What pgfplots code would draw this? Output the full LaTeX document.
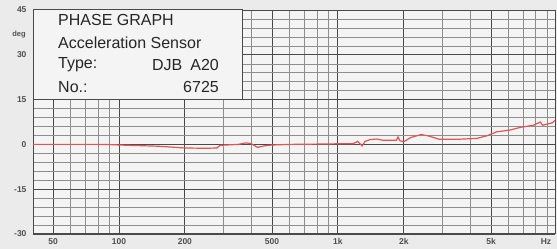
\documentclass[border=0pt]{standalone}
\usepackage{pgfplots}
\pgfplotsset{compat=1.18}
\usepackage{fontspec}
\setmainfont{Liberation Sans}
\definecolor{paper}{HTML}{EBEBEB}
\definecolor{plotbg}{HTML}{F4F4F4}
\definecolor{major}{HTML}{4A4A4A}
\definecolor{minorc}{HTML}{8E8E8E}
\definecolor{curve}{HTML}{E05555}
\definecolor{lbl}{HTML}{505050}
\begin{document}
\begin{tikzpicture}[x=1pt,y=1pt]
\fill[paper] (0,0) rectangle (557,249);
\begin{axis}[
  name=ax, at={(33pt,15pt)}, anchor=south west,
  scale only axis, width=522pt, height=224pt,
  xmode=log, xmin=40.5, xmax=9800, ymin=-30, ymax=45,
  axis background/.style={fill=plotbg},
  xtick={50,100,200,500,1000,2000,5000},
  xticklabels={50,100,200,500,1k,2k,5k},
  minor xtick={60,70,80,90,300,400,600,700,800,900,3000,4000,6000,7000,8000,9000},
  ytick={-30,-15,0,15,30,45},
  minor ytick={-27,-24,-21,-18,-12,-9,-6,-3,3,6,9,12,18,21,24,27,33,36,39,42},
  log ticks with fixed point,
  grid=both,
  major grid style={major, line width=0.9pt},
  minor grid style={minorc, line width=0.45pt},
  axis line style={major, line width=1pt},
  major tick length=0pt, minor tick length=0pt,
  tick label style={font=\fontsize{8.5}{10}\selectfont\bfseries, text=lbl},
  /pgf/number format/assume math mode=true,
  xticklabel style={yshift=-1pt},
  yticklabel style={xshift=-3pt},
  clip=false,
]
\addplot[curve, line width=1.2pt] coordinates {
(40.5,0) (60,0) (80,0) (95,-0.1) (100,-0.2) (150,-0.6) (200,-1.2) (250,-1.3) (280,-1.2) (290,-0.3) (350,0) (380,0.5) (400,0.3) (430,-1) (460,-0.5) (500,-0.2) (600,0) (800,0.1) (1000,0.2) (1170,0.2) (1230,1) (1290,-0.5) (1330,1) (1400,1.6) (1500,1.8) (1600,1.4) (1850,1.4) (1880,2.5) (1920,1.2) (2000,0.9) (2150,2.3) (2400,3.3) (2600,2.8) (2900,1.7) (3500,1.7) (4300,2.0) (4800,2.9) (5300,4.2) (6100,4.8) (6800,5.7) (7800,6.4) (8400,7.5) (8600,6.4) (9500,7.2) (9800,8)
};
\end{axis}
% info box
\filldraw[fill=plotbg, draw=major, line width=1pt] (33,149) rectangle (242,239);
\node[anchor=west, inner sep=0pt, font=\fontsize{16}{18}\selectfont, text=black!85] at (58,229) {PHASE GRAPH};
\node[anchor=west, inner sep=0pt, font=\fontsize{16}{18}\selectfont, text=black!85] at (58,206) {Acceleration Sensor};
\node[anchor=west, inner sep=0pt, font=\fontsize{16}{18}\selectfont, text=black!85] at (58,184) {Type:};
\node[anchor=east, inner sep=0pt, font=\fontsize{16}{18}\selectfont, text=black!85] at (219,184) {DJB\hspace{0.5em}A20};
\node[anchor=west, inner sep=0pt, font=\fontsize{16}{18}\selectfont, text=black!85] at (58,162) {No.:};
\node[anchor=east, inner sep=0pt, font=\fontsize{16}{18}\selectfont, text=black!85] at (219,162) {6725};
\node[font=\fontsize{7.5}{9}\selectfont\bfseries, text=lbl] at (19,214) {deg};
\node[font=\fontsize{8.5}{10}\selectfont\bfseries, text=lbl] at (546,7) {Hz};
\pgfresetboundingbox
\useasboundingbox (0,0) rectangle (557,249);
\end{tikzpicture}
\end{document}
